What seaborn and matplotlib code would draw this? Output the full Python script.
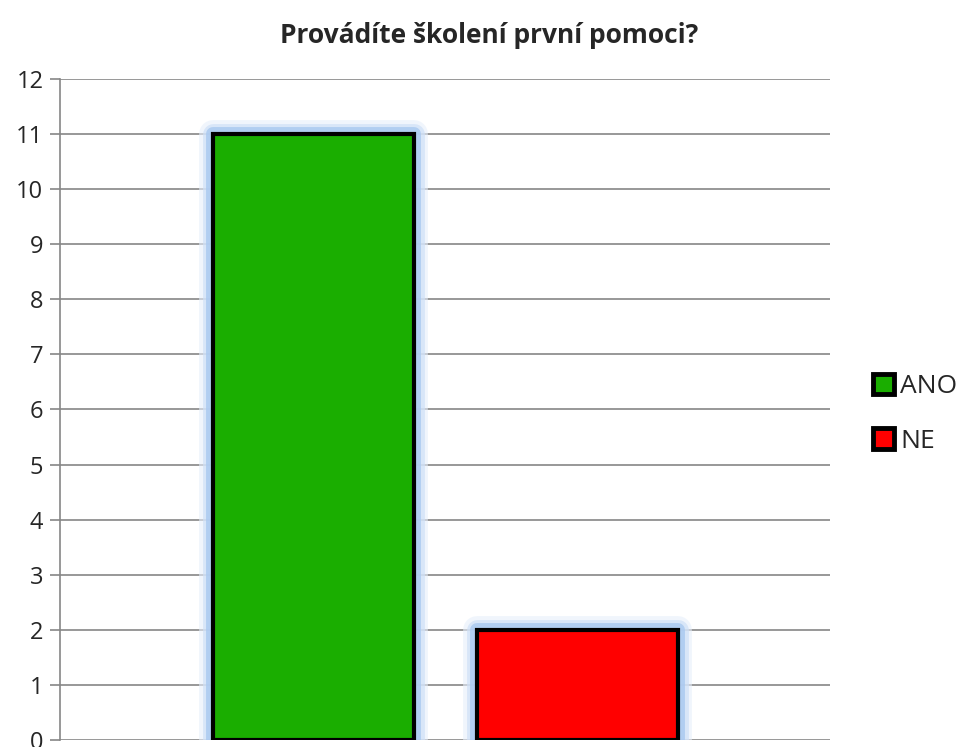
import matplotlib
matplotlib.use("Agg")
import matplotlib.pyplot as plt
import matplotlib.patheffects as pe
from matplotlib.patches import Patch
import seaborn as sns
import pandas as pd

categories = ["ANO", "NE"]
values = [11, 2]
colors = ["#1aae00", "#ff0000"]
yticks = list(range(0, 13))
title = "Provádíte školení první pomoci?"

sns.set_theme(style="white")
plt.rcParams["font.family"] = ["Open Sans", "DejaVu Sans"]

fig = plt.figure(figsize=(9.6, 7.47), dpi=100)
ax = fig.add_axes([0.0625, 0.0094, 0.802, 0.885])

df = pd.DataFrame({"cat": categories, "val": values})
sns.barplot(data=df, x="cat", y="val", hue="cat", palette=colors, width=0.76,
            saturation=1, edgecolor="black", linewidth=3, legend=False, ax=ax, zorder=3)

glow = [pe.Stroke(linewidth=20, foreground="#e6effb", alpha=0.6, joinstyle="round"),
        pe.Stroke(linewidth=15, foreground="#cfe0f7", alpha=0.7, joinstyle="round"),
        pe.Stroke(linewidth=10, foreground="#a8c8f0", alpha=0.8, joinstyle="round"),
        pe.Normal()]
for p in ax.patches:
    p.set_path_effects(glow)

ax.set_ylim(0, 12)
ax.set_xlim(-0.96, 1.955)
ax.set_yticks(yticks)
ax.set_yticklabels([str(t) for t in yticks], fontsize=17)
ax.set_xticks([])
ax.set_xlabel("")
ax.set_ylabel("")
ax.grid(axis="y", color="#868686", linewidth=1.2, zorder=0)
ax.set_axisbelow(True)
for s in ["top", "right", "bottom"]:
    ax.spines[s].set_visible(False)
ax.spines["left"].set_color("#868686")
ax.spines["left"].set_linewidth(1.2)
ax.tick_params(axis="y", length=7, width=1.2, color="#868686", left=True, pad=5)

fig.text(0.51, 0.953, title, ha="center", va="center", fontsize=19, fontweight="bold")

handles = [Patch(facecolor=c, edgecolor="black", linewidth=3.5) for c in colors]
fig.legend(handles, categories, loc="center left", bbox_to_anchor=(0.909, 0.446),
           frameon=False, fontsize=19, handlelength=0.8, handleheight=0.8,
           handletextpad=0.25, labelspacing=1.1, borderaxespad=0, borderpad=0)

fig.savefig("out.png", dpi=100)
